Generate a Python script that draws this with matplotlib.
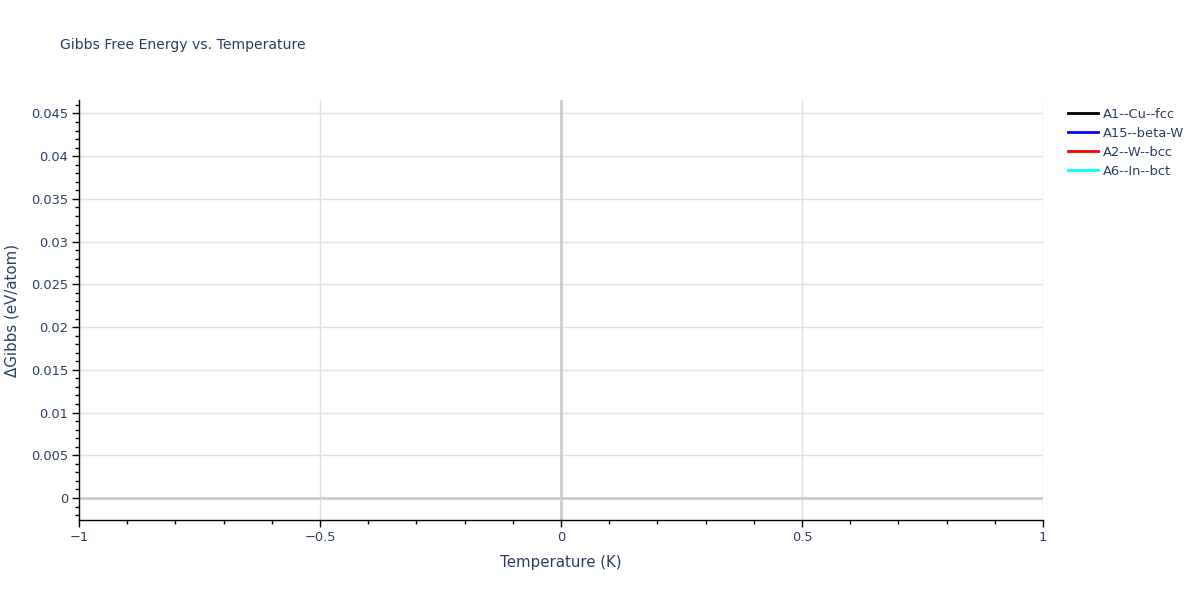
import matplotlib
matplotlib.use("Agg")
import matplotlib.pyplot as plt
from matplotlib.ticker import MultipleLocator, FuncFormatter
from matplotlib.lines import Line2D

# Data: each phase only has a single point at T=0 (lines mode -> nothing visible)
series_names = ["A1--Cu--fcc", "A15--beta-W", "A2--W--bcc", "A6--In--bct"]
series_colors = ["black", "blue", "red", "cyan"]
temperature = [[0.0], [0.0], [0.0], [0.0]]
dgibbs = [[0.0], [0.044], [0.0], [0.0]]

x_range = (-1, 1)
y_range = (-0.00258, 0.04658)
x_ticks = [-1, -0.5, 0, 0.5, 1]
y_ticks = [0, 0.005, 0.01, 0.015, 0.02, 0.025, 0.03, 0.035, 0.04, 0.045]

plt.rcParams['font.family'] = ['DejaVu Sans']
txt = '#2a3f5f'
PX = 0.72  # points per pixel at dpi 100

fig = plt.figure(figsize=(12, 6), dpi=100)
ax = fig.add_axes([79/1200, 1 - 520/600, (1043-79)/1200, 420/600])

for name, col, xs, ys in zip(series_names, series_colors, temperature, dgibbs):
    ax.plot(xs, ys, color=col, lw=2, label=name)

ax.set_xlim(*x_range)
ax.set_ylim(*y_range)
ax.set_xticks(x_ticks)
ax.set_yticks(y_ticks)
ax.xaxis.set_minor_locator(MultipleLocator(0.1))
ax.yaxis.set_minor_locator(MultipleLocator(0.001))

def fmt(v, pos):
    if abs(v) < 1e-12:
        return "0"
    s = ("%g" % v)
    return s.replace("-", "\u2212")
ax.xaxis.set_major_formatter(FuncFormatter(fmt))
ax.yaxis.set_major_formatter(FuncFormatter(fmt))

ax.grid(True, which='major', color='#e0e0e0', lw=1)
ax.axhline(0, color='#cccccc', lw=2, zorder=1)
ax.axvline(0, color='#cccccc', lw=2, zorder=1)
ax.set_axisbelow(True)

for s in ['top', 'right']:
    ax.spines[s].set_visible(False)
for s in ['left', 'bottom']:
    ax.spines[s].set_color('black')
    ax.spines[s].set_linewidth(1)

ax.tick_params(which='major', direction='out', length=5, width=1, color='black',
               labelsize=13*PX, labelcolor=txt, pad=3)
ax.tick_params(which='minor', direction='out', length=3, width=1, color='black')

ax.set_xlabel("Temperature (K)", fontsize=15*PX, color=txt, labelpad=8)
ax.set_ylabel("\u0394Gibbs (eV/atom)", fontsize=15*PX, color=txt, labelpad=8)

fig.text(60/1200, 1 - 45/600, "Gibbs Free Energy vs. Temperature", fontsize=14*PX,
         color=txt, va='center', ha='left')

handles = [Line2D([0], [0], color=c, lw=2) for c in series_colors]
leg = fig.legend(handles, series_names, loc='upper left',
                 bbox_to_anchor=(1068/1200, 1 - 108/600), frameon=False,
                 fontsize=13*PX, handlelength=2.3, handletextpad=0.4,
                 labelspacing=0.46, borderaxespad=0, borderpad=0)
for t in leg.get_texts():
    t.set_color(txt)

fig.savefig("out.png", dpi=100)
